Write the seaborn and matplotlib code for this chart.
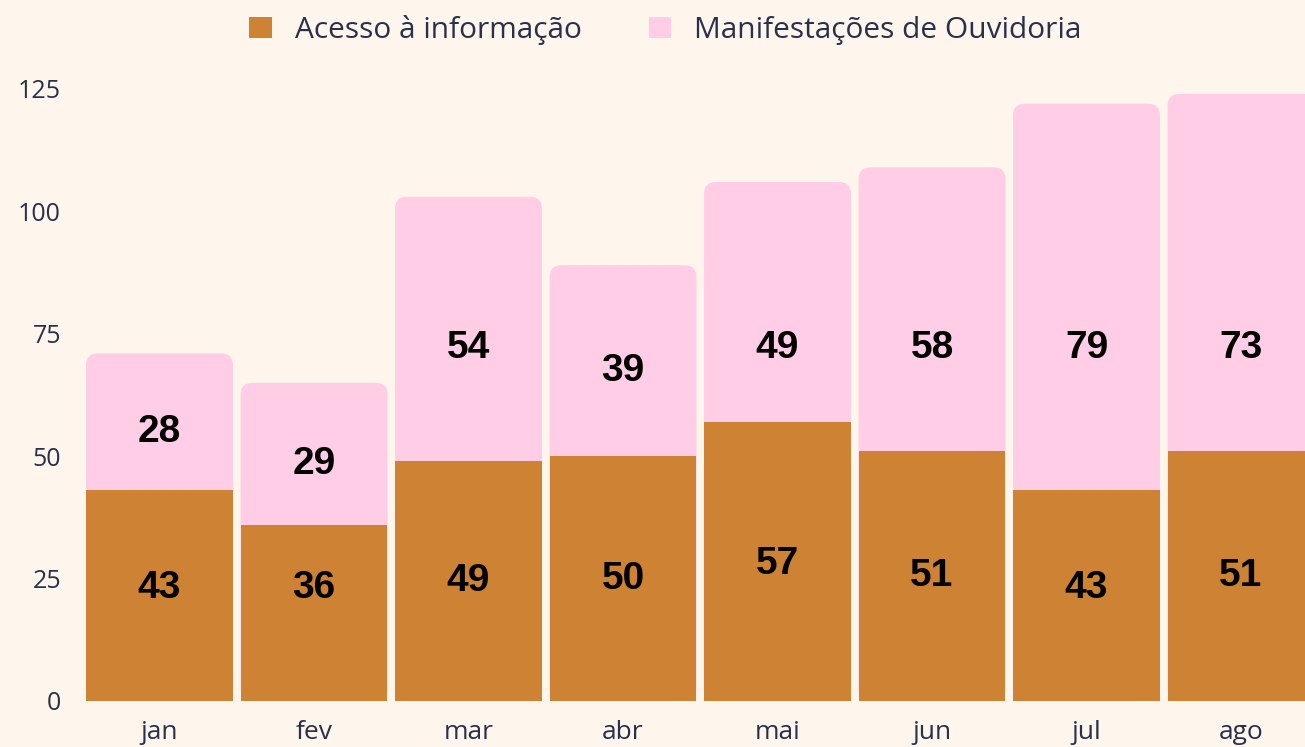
import numpy as np
import pandas as pd
import matplotlib
matplotlib.use("Agg")
import matplotlib.pyplot as plt
import seaborn as sns
from matplotlib.patches import FancyBboxPatch, Patch

# Data
months = ["jan", "fev", "mar", "abr", "mai", "jun", "jul", "ago"]
acesso = [43, 36, 49, 50, 57, 51, 43, 51]
manifestacoes = [28, 29, 54, 39, 49, 58, 79, 73]
series_names = ["Acesso à informação", "Manifestações de Ouvidoria"]

bg = "#FEF6EC"
orange = "#CD8234"
pink = "#FFCDE6"
navy = "#28304A"

df = pd.DataFrame({"month": months, "acesso": acesso, "manif": manifestacoes})
df["total"] = df["acesso"] + df["manif"]

sns.set_theme(style="white")
plt.rcParams["font.family"] = ["Open Sans", "DejaVu Sans"]

fig = plt.figure(figsize=(13.05, 7.47), dpi=100, facecolor=bg)
ax = fig.add_axes([79 / 1305, 46 / 747, 1 - 79 / 1305, 612 / 747])
ax.set_facecolor(bg)

bw = 0.951
sns.barplot(data=df, x="month", y="total", color=pink, width=bw, saturation=1,
            linewidth=0, ax=ax)
n_pink = len(ax.patches)
sns.barplot(data=df, x="month", y="acesso", color=orange, width=bw, saturation=1,
            linewidth=0, ax=ax)

# Rounded top corners for the pink (total) bars
r_px = 12
xlim = (-0.521, 7.414)
ylim = (0, 125)
ax.set_xlim(*xlim)
ax.set_ylim(*ylim)
px_per_x = 1305 * (1 - 79 / 1305) / (xlim[1] - xlim[0])
px_per_y = 612 / (ylim[1] - ylim[0])
r_x = r_px / px_per_x
aspect = px_per_x / px_per_y
for p in ax.patches[:n_pink]:
    p.set_visible(False)
    fb = FancyBboxPatch((p.get_x(), p.get_y()), p.get_width(), p.get_height(),
                        boxstyle=f"round,pad=0,rounding_size={r_x}",
                        mutation_aspect=aspect, facecolor=pink, edgecolor="none", zorder=1)
    ax.add_patch(fb)
for p in ax.patches[n_pink:2 * n_pink]:
    p.set_zorder(2)

# Value labels
for i, (a, m) in enumerate(zip(acesso, manifestacoes)):
    yb = min(max(a / 2, 23), 28)
    yt = min(a + m / 2 - 2, 72)
    ax.text(i, yb, str(a), ha="center", va="center", fontsize=28, fontweight="bold",
            family="Liberation Sans", color="black", zorder=3)
    ax.text(i, yt, str(m), ha="center", va="center", fontsize=28, fontweight="bold",
            family="Liberation Sans", color="black", zorder=3)

ax.set_yticks([0, 25, 50, 75, 100, 125])
ax.tick_params(axis="y", length=0, pad=13, labelsize=18, labelcolor=navy)
ax.tick_params(axis="x", length=0, pad=14, labelsize=19, labelcolor=navy)
ax.set_xlabel("")
ax.set_ylabel("")
for s in ax.spines.values():
    s.set_visible(False)

handles = [Patch(facecolor=orange, edgecolor="none"), Patch(facecolor=pink, edgecolor="none")]
fig.legend(handles, series_names, loc="center", bbox_to_anchor=(0.51, 0.96), ncol=2,
           frameon=False, fontsize=21.5, labelcolor=navy, handlelength=0.74, handleheight=0.74,
           handletextpad=0.77, columnspacing=2.27)

fig.savefig("out.png", dpi=100, facecolor=bg)
